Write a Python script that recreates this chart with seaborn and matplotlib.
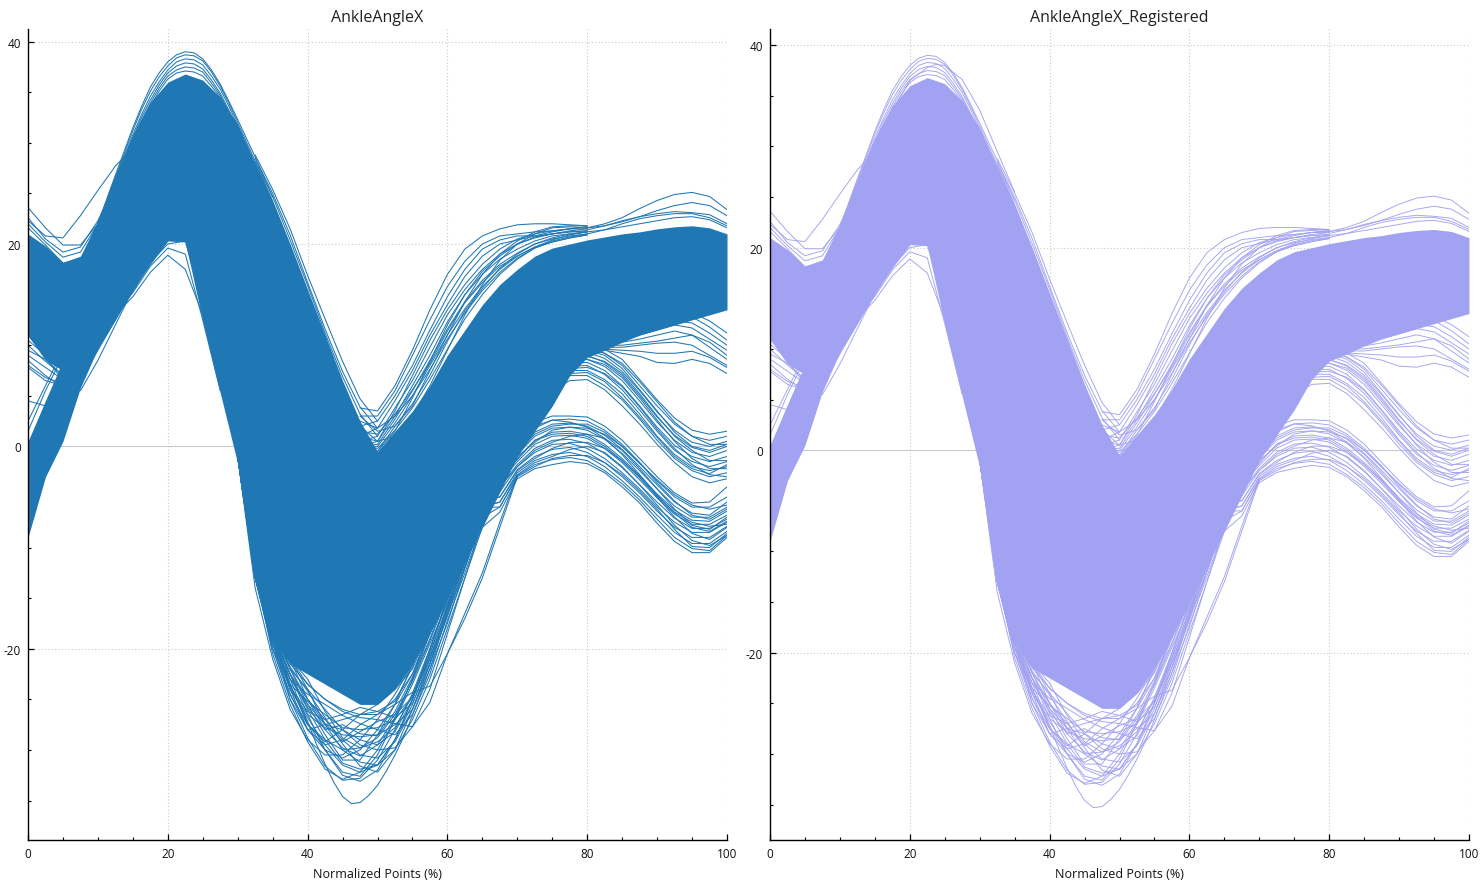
import matplotlib
matplotlib.use("Agg")
import matplotlib.pyplot as plt
import pandas as pd
import seaborn as sns
from matplotlib.ticker import MultipleLocator

# ------------------------------------------------------------------
# values
# ------------------------------------------------------------------
titles = ["AnkleAngleX", "AnkleAngleX_Registered"]
x_label = "Normalized Points (%)"

# saturated mass of curves: outer edges of the solid band
band_x = [0, 2.5, 5, 7.5, 10, 12.5, 15, 17.5, 20, 22.5, 25, 27.5, 30, 32.5, 35, 37.5, 40, 42.5, 45, 47.5,
          50, 52.5, 55, 57.5, 60, 62.5, 65, 67.5, 70, 72.5, 75, 77.5, 80, 82.5, 85, 87.5, 90, 92.5, 95, 97.5, 100]
band_upper = [21, 19.8, 18.2, 18.8, 22.3, 26.8, 30.8, 34, 36, 36.8, 36.2, 34.5, 31.8, 28, 24.3, 20, 15.5, 11, 6.5, 2.5,
              -0.5, 1.5, 3.5, 6, 9, 11.5, 14, 16, 17.5, 18.8, 19.6, 20, 20.4, 20.7, 21, 21.2, 21.5, 21.7, 21.8, 21.6, 21]
band_lower = [11, 8.5, 7.5, 6.5, 9.7, 12.5, 15.5, 18, 20.3, 20.2, 12.4, 5.3, -1.7, -13, -19, -21.5, -22.5, -23.5, -24.5, -25.5,
              -25.5, -24, -21.5, -18.5, -15, -11.5, -8, -4.5, -1, 1.5, 4, 7, 8.8, 9.5, 10.3, 11, 11.5, 12, 12.5, 13, 13.5]

# second group at the start of the cycle
branch_x = [0, 2.5, 5, 7.5, 10]
branch_upper = [0.5, 4.5, 8.5, 12, 14]
branch_lower = [-9, -3, 0.5, 5.8, 9.7]

start_x = [0, 2.5, 5, 7.5, 10, 12.5, 15]
start_curves = [
    [23.6, 21.6, 19.9, 19.9, 22, 26, 30],
    [22.3, 20.8, 20.6, 22.8, 25.3, 27.7, 29.5],
    [22.6, 20.5, 19.2, 19.7, 22.3, 26, 30],
    [22, 20.2, 18.7, 19.2, 22, 26, 30],
    [21.6, 19.9, 18.1, 18.5, 21.5, 25.5, 29.5],
    [11, 8.8, 6.5, 5.5, 8.5, 12, 15.5],
    [11.2, 9.5, 8, 8.3, 10.5, 13, 16],
    [10.5, 9, 7.5, 8, 10.5, 13, 16],
    [10, 8.4, 7, 7.8, 10.3, 13, 16],
    [9.5, 8.6, 7, 8.5, 11, 13.5, 16.5],
    [9, 7.8, 6.6, 7.5, 10, 13, 16],
    [8.5, 7, 5.8, 6.5, 9.5, 12.5, 15.5],
    [8, 6.8, 6.2, 7.2, 10, 13, 16],
    [7.8, 6.5, 6, 7, 10, 13, 16],
    [4.5, 4, 5, 7, 10, 13, 16],
    [2.5, 6, 9.5, 12, 14, 16, 18],
    [1.5, 5.5, 9, 11.5, 13.5, 16, 18],
    [0, 4.2, 8, 11, 13.5, 16, 18],
]

peak_x = [10, 12.5, 15, 16.25, 17.5, 18.75, 20, 21.25, 22.5, 23.75, 25, 26.25, 27.5, 28.75, 30, 32.5, 35]
peak_curves = [
    [22, 26.8, 31.5, 33.6, 35.5, 36.9, 38, 38.7, 39, 38.9, 38.3, 37.2, 35.8, 34.1, 32.3, 28.6, 24.6],
    [22, 26.6, 31.2, 33.3, 35.1, 36.5, 37.6, 38.4, 38.7, 38.6, 38.1, 37, 35.6, 33.9, 32, 28.2, 24.2],
    [22, 26.4, 30.8, 32.8, 34.6, 36, 37.2, 38, 38.3, 38.2, 37.7, 36.6, 35.3, 33.6, 31.7, 27.8, 23.8],
    [22, 26.3, 30.5, 32.5, 34.2, 35.7, 36.9, 37.6, 37.9, 37.8, 37.3, 36.2, 34.9, 33.2, 31.4, 27.5, 23.5],
    [22, 26.2, 30.3, 32.2, 33.9, 35.4, 36.6, 37.2, 37.5, 37.4, 37, 35.9, 34.7, 33, 31.2, 27.3, 23.3],
    [22, 26.1, 30.1, 31.9, 33.6, 35.1, 36.3, 36.9, 37.1, 37, 36.6, 35.6, 34.5, 32.8, 31, 27.1, 23.1],
]

# outlier only seen in the registered panel
registered_x = [15, 17.5, 20, 22.5, 23.75, 25, 27.5, 30, 32.5, 35]
registered_peak = [30, 33.5, 36.5, 37.8, 38.1, 38, 36.6, 33.6, 29.5, 25.5]

under_x = [10, 12.5, 15, 17.5, 20, 22.5, 25, 27.5]
under_curves = [
    [10.5, 13, 14.8, 17.2, 18.9, 17.5, 13, 6.5],
    [10.5, 13, 15.2, 17.8, 19.6, 19, 12.5, 5.5],
    [10.5, 13, 15.3, 18.2, 20, 20.3, 14, 6],
]

fall_x = [32.5, 35, 37.5, 40, 42.5, 45, 47.5, 50]
fall_curves = [
    [28.8, 25.4, 21.5, 16.9, 12.6, 8.4, 4.7, 2.5],
    [28.5, 25, 20.9, 16.2, 11.6, 7.4, 3.9, 1.8],
    [28.2, 24.7, 20.4, 15.9, 11.2, 6.9, 3.2, 1],
]

# loops under the main mass
trough_x = [30, 32.5, 35, 37.5, 40, 42.5, 45, 47.5, 50, 52.5, 55, 57.5, 60, 62.5, 65, 67.5, 70]
trough_curves = [
    [-1, -13, -20, -25, -28.8, -31.6, -33, -32.8, -31, -28, -24.4, -20, -15, -10, -5, -2, 0],
    [-1, -12.5, -20.5, -25.5, -29.2, -31.9, -32.9, -32.2, -30, -27, -23.5, -19.5, -15.5, -10.5, -5.5, -2, 0],
    [-1, -13, -19, -24, -26.8, -29.5, -31.5, -32.2, -31.5, -29, -25, -20, -15, -10, -5, -2, 0],
    [-1, -12, -18.5, -22.5, -26.5, -30, -32.2, -32.6, -30.5, -27, -23, -18.5, -13.5, -9, -5, -2, 0],
    [-1, -11, -17, -21, -24, -27.5, -30, -31.2, -31.5, -30, -27, -23, -18, -13, -7.5, -4, -1],
    [-1, -13, -19, -22.5, -25, -27, -29, -30.5, -30.8, -29.2, -26, -21.5, -16, -11, -6.5, -3, 0],
    [-1, -12, -18, -22, -24, -26, -28, -29.5, -30, -29.8, -27.7, -24, -18.5, -13, -8, -4, 0],
    [-1, -12.5, -19.5, -24, -26.5, -27.8, -28.5, -28.7, -28.5, -27.5, -26, -22, -17.5, -12, -7, -3, 0],
    [-1, -11, -17, -21.5, -23.5, -25, -26, -26.5, -26.5, -25.5, -24.3, -23.7, -20.5, -17, -13, -8, -3],
    [-1, -11.5, -17.5, -21, -23.5, -25, -26.2, -26.8, -27, -27.4, -27.7, -25.3, -20.5, -16.5, -12.5, -7.5, -2.8],
    [-1, -12, -18, -24, -28, -30, -30.8, -30, -28, -25.5, -22.5, -18, -14, -10, -6, -3, 0],
    [-1, -12, -17, -21, -25, -28, -29.8, -30.6, -29.5, -26.8, -23, -19, -14.5, -10, -5, -2, 0],
    [-1, -14, -21, -26, -29, -30.5, -30.5, -29, -27, -24.5, -21.5, -17.5, -13, -9, -4.5, -2, 0],
    [-1, -13, -20, -24.5, -28, -29.5, -29, -27.5, -26.5, -25, -22.5, -18.5, -14, -9.5, -5, -2, 0],
    [-1, -12, -18.5, -23.5, -27.5, -29.2, -28, -26.5, -25.5, -24, -22, -18, -13.5, -9, -5, -2, 0],
    [-1, -13, -19, -25, -28, -27.5, -27, -26.5, -26.2, -25.2, -21.8, -17, -13, -9, -4.5, -2, 0],
    [-1, -13, -18, -22, -25.5, -28.5, -31, -31, -28.5, -25.5, -21.5, -17, -12.5, -8, -4, -2, 0],
    [-1, -12, -18, -22.5, -26, -29, -31.3, -31.9, -31.5, -29, -25.5, -21, -16, -11.5, -7, -3, 0],
    [-1, -13, -19, -23.5, -27.3, -30, -32.5, -33.1, -32, -29, -25, -20.5, -15.7, -10.5, -5.8, -2.5, 0],
    [-1, -12, -19, -23, -25.5, -27.5, -28, -29, -29.5, -28.2, -25, -20.8, -16.5, -12, -7, -3.5, 0],
    [-1, -13, -20, -23.5, -25.2, -26.5, -27.8, -28, -27.8, -27, -24.8, -20.2, -15.2, -10.8, -6.2, -3, 0],
    [-1, -12, -18, -21, -23, -26.2, -28.8, -29.8, -28.8, -26.5, -23.2, -19.2, -14.8, -10.2, -5.6, -2.5, 0],
    [-1, -13, -19.5, -23, -24.5, -25.5, -26.6, -27.4, -28, -28.5, -26.5, -22.5, -17.2, -12.5, -7.6, -3.5, 0],
    [-1, -12.5, -18.5, -22.5, -25.8, -28, -27.5, -28.4, -28.6, -26.2, -22.8, -18.2, -13.8, -9.5, -5.2, -2, 0],
    [-1, -12, -18, -21.8, -24.2, -26.8, -29.4, -31.6, -32.2, -30, -26, -21.5, -16.8, -12, -7.2, -3.2, 0],
    [-1, -13, -19.5, -24.5, -27.5, -29, -30, -29.8, -29.2, -27.8, -24.6, -20.5, -15.8, -11.2, -6.5, -3, 0],
    [-1, -11.5, -17.5, -22, -25, -27.4, -29.2, -28.2, -27.2, -26.5, -24.8, -21, -16.2, -11.5, -6.8, -3, 0],
    [-1, -12.5, -19, -23.8, -26.2, -27, -26.5, -25.8, -26.2, -26.8, -25.4, -21.4, -16.6, -11.8, -7, -3, 0],
]

# the lowest curve, read more closely around its minimum
lowest_x = [30, 32.5, 35, 37.5, 40, 41.25, 42.5, 43.75, 45, 46.25, 47.5, 48.75, 50, 51.25, 52.5, 53.75, 55, 57.5, 60, 62.5, 65]
lowest_y = [-1, -11, -18, -23, -27.2, -29.4, -31.4, -33.2, -34.6, -35.3, -35.2, -34.5, -33.5, -32.1, -30.5, -28.7, -26.6, -22, -16.5, -11, -6]

# loose curves above the rising part
rise_x = [47.5, 50, 52.5, 55, 57.5, 60, 62.5, 65, 67.5, 70, 72.5, 75, 77.5, 80]
rise_curves = [
    [3.8, 3.5, 6, 9.5, 13.5, 17, 19.5, 20.8, 21.5, 21.9, 22, 22, 21.9, 21.8],
    [3, 3, 5.5, 9, 12.5, 15.8, 18.3, 20, 20.8, 21, 21.2, 21.3, 21.5, 21.7],
    [2, 2.5, 5, 8, 11.5, 14.8, 17.5, 19.5, 20.4, 20.8, 20.8, 21, 21.3, 21.5],
    [1, 1.8, 4.5, 7.5, 11, 14, 16.8, 18.8, 20, 20.4, 20.8, 21.2, 21.5, 21.7],
    [1, 0.5, 3.5, 7, 10.5, 13.5, 16, 18, 19.5, 20.5, 21, 21.3, 21.5, 21.5],
    [0.5, 1, 3.8, 6.5, 9.8, 13, 15.5, 17.5, 19, 20, 20.7, 21, 21.2, 21.3],
    [0, 0.5, 3, 6, 9, 12.3, 15, 17, 18.5, 19.5, 20.3, 20.8, 21, 21.2],
    [0, 0.2, 2.7, 5.5, 8.5, 11.6, 14.3, 16.4, 18, 19.1, 20, 20.5, 20.8, 21],
    [-0.3, 0, 2.3, 5, 8, 11, 13.6, 15.8, 17.5, 18.8, 19.7, 20.2, 20.6, 20.9],
    [0, -0.5, 1.5, 4.8, 8.4, 12, 15, 17.3, 18.8, 20, 20.6, 21, 21.2, 21.3],
    [2, 0.5, 1, 3, 6, 9.5, 13, 16, 18.4, 20, 21, 21.6, 21.7, 21.6],
    [3, 1.5, 2, 4, 7.5, 11, 14.3, 17, 19, 20.3, 21.2, 21.7, 21.8, 21.8],
    [-0.5, -0.5, 2, 4.2, 7, 10.4, 13.4, 15.6, 17.6, 19, 20, 20.6, 21, 21.2],
    [0, -0.2, 1.6, 3.8, 6.6, 9.6, 12.6, 15, 17, 18.5, 19.6, 20.3, 20.7, 21],
    [1.5, 1.2, 3.2, 5.6, 8.2, 11.4, 14.2, 16.2, 17.8, 18.8, 19.7, 20.4, 20.9, 21.2],
    [2.5, 1.8, 3, 5, 7.6, 10.6, 13.2, 15.4, 17.2, 18.6, 19.6, 20.2, 20.6, 20.9],
]

# two groups that split away late in the cycle
low_x = [65, 67.5, 70, 72.5, 75, 77.5, 80, 82.5, 85, 87.5, 90, 92.5, 95, 97.5, 100]
low_curves = [
    [-5, -1, 0.2, 2.4, 3, 3, 2.9, 2, 0.6, -1.2, -3, -4.6, -5.6, -5.5, -4],
    [-5, -1.5, -0.3, 1.8, 2.6, 2.7, 2.5, 1.6, 0.2, -1.6, -3.4, -5, -6, -6, -5],
    [-5, -2, -0.5, 1.4, 2.2, 2.3, 2, 1.1, -0.3, -2, -3.8, -5.5, -6.6, -6.8, -5.5],
    [-5, -2.5, -0.8, 1, 1.8, 1.9, 1.6, 0.7, -0.7, -2.4, -4.2, -5.9, -7, -7, -6],
    [-5, -3, -1.2, 0.6, 1.4, 1.5, 1.2, 0.2, -1.2, -2.9, -4.7, -6.3, -7.3, -7.4, -6.4],
    [-5, -3.5, -1.5, 0.2, 1, 1.1, 0.8, -0.2, -1.6, -3.3, -5.1, -6.7, -7.7, -7.7, -6.8],
    [-5, -4, -1.8, -0.2, 0.6, 0.7, 0.3, -0.7, -2.1, -3.8, -5.5, -7.1, -8.1, -8.1, -7.2],
    [-5, -4.5, -2, -0.6, 0.2, 0.3, -0.2, -1.2, -2.6, -4.2, -6, -7.5, -8.5, -8.5, -7.5],
    [-5.5, -5, -2.3, -1, -0.3, -0.1, -0.6, -1.6, -3, -4.6, -6.4, -8, -9, -9, -7.9],
    [-6, -5.5, -2.6, -1.4, -0.8, -0.6, -1, -2, -3.4, -5, -6.8, -8.5, -9.6, -9.6, -8.4],
    [-7, -6, -2.9, -1.8, -1.3, -1.1, -1.4, -2.4, -3.7, -5.3, -7.2, -9, -10.1, -10.3, -8.8],
    [-8, -6.5, -3.2, -2.2, -1.8, -1.5, -1.7, -2.6, -4, -5.6, -7.6, -9.4, -10.5, -10.5, -9],
    [-5, -2, 0, 2, 2.6, 2.4, 1.9, 0.8, -0.8, -2.8, -4.8, -6.6, -8, -8.4, -7.4],
    [-5, -3, -1, 0.4, 1.6, 1.9, 1.8, 1.2, 0, -1.6, -3.6, -5.4, -6.8, -7.2, -6.2],
    [-5, -4, -2, -0.4, 0.4, 1, 1.2, 0.8, -0.4, -2.2, -4.2, -6.2, -7.8, -8.2, -7],
    [-5, -5, -2.4, -1.2, -0.2, 0.4, 0.4, -0.2, -1.4, -3, -5, -7, -8.6, -9.2, -8],
    [-6, -5.5, -2.8, -1.6, -1, -0.3, 0, -0.6, -2, -3.8, -5.8, -7.8, -9.3, -9.8, -8.8],
    [-6, -6, -3, -2, -1.2, -0.9, -0.9, -1.6, -2.8, -4.4, -6.2, -8.2, -9.9, -10, -8.6],
    [-5, -2.5, -0.6, 1.2, 2, 2.2, 2.2, 1.4, 0, -1.7, -3.3, -4.8, -5.8, -6.2, -5.8],
    [-5, -3.2, -1.3, 0.6, 1.2, 1.3, 1, 0, -1.4, -3.1, -4.9, -6.5, -7.5, -7.9, -7.7],
]

mid_x = [75, 77.5, 80, 82.5, 85, 87.5, 90, 92.5, 95, 97.5, 100]
mid_curves = [
    [9, 10, 10, 9.6, 8.6, 6.6, 4.6, 2.8, 1.6, 1.2, 1.5],
    [8.5, 9.6, 9.7, 9.2, 8, 6, 4, 2.2, 1, 0.6, 1],
    [8, 9.2, 9.3, 8.7, 7.4, 5.5, 3.4, 1.6, 0.4, 0, 0.5],
    [7.8, 8.9, 9, 8.3, 7, 5, 2.9, 1.1, -0.1, -0.6, 0],
    [7.5, 8.5, 8.6, 7.9, 6.5, 4.5, 2.4, 0.6, -0.6, -1, -0.4],
    [7.2, 8.2, 8.3, 7.5, 6, 4, 1.9, 0.1, -1, -1.5, -1],
    [7, 7.9, 8, 7.1, 5.6, 3.6, 1.5, -0.4, -1.5, -2, -1.5],
    [6.5, 7.5, 7.5, 6.6, 5.2, 3.2, 1, -0.8, -2, -2.4, -2],
    [6, 7, 7, 6, 4.6, 2.7, 0.6, -1.2, -2.4, -3, -2.6],
    [5.5, 6.5, 6.6, 5.6, 4, 2.2, 0.2, -1.6, -3, -3.6, -3.2],
    [8.8, 9.8, 9.8, 9.2, 8.2, 6.4, 4.4, 2.4, 1, 0.2, 0.2],
    [8.2, 9.3, 9.5, 9, 7.7, 5.6, 3.5, 1.4, 0, -0.4, 0.2],
    [7.6, 8.7, 8.9, 8.4, 7.2, 5.2, 3, 1, -0.4, -1.4, -1.4],
    [7.3, 8.3, 8.6, 8.1, 6.8, 4.8, 2.6, 0.5, -1.2, -2.2, -2.2],
    [6.8, 7.7, 7.8, 7.2, 5.9, 3.9, 1.7, -0.2, -1.8, -2.8, -3],
    [6.2, 7.2, 7.3, 6.4, 4.8, 2.9, 0.9, -1, -2.2, -2.7, -1.8],
]

flat_x = [82.5, 85, 87.5, 90, 92.5, 95, 97.5, 100]
flat_curves = [
    [9.5, 9.2, 8.9, 8.3, 8.2, 8.6, 8.2, 7.2],
    [9.6, 9.5, 9.4, 9.2, 9.2, 9.4, 8.8, 7.8],
    [9.8, 9.8, 10, 10.2, 10.3, 10, 9, 8],
    [10, 10.3, 10.6, 11, 11.4, 11, 9.8, 8.6],
    [10, 10, 10.2, 10.4, 10.7, 11, 10.3, 9],
    [10.2, 10.6, 11, 11.5, 12, 11.7, 10.6, 9.5],
    [10.5, 10.9, 11.5, 12, 12.4, 12.2, 11.2, 10],
    [11, 11.2, 11.8, 12.4, 12.6, 12.8, 11.8, 10.5],
    [11.3, 11.8, 12.4, 12.6, 13, 13.2, 12.4, 11.2],
]

top_x = [80, 82.5, 85, 87.5, 90, 92.5, 95, 97.5, 100]
top_curves = [
    [21.6, 22, 22.6, 23.5, 24.3, 24.9, 25.1, 24.7, 23.4],
    [21.6, 21.8, 22.2, 22.7, 23.3, 23.8, 24.1, 23.8, 22.8],
    [21.4, 21.8, 22.3, 22.7, 23, 23.2, 23.1, 22.9, 22],
    [21, 21.4, 22, 22.5, 22.8, 23, 23, 22.6, 21.8],
    [21.2, 21.4, 21.7, 22, 22.3, 22.6, 22.7, 22.4, 21.6],
]

families = [
    (start_x, start_curves), (peak_x, peak_curves), (under_x, under_curves), (fall_x, fall_curves),
    (trough_x, trough_curves), (lowest_x, [lowest_y]), (rise_x, rise_curves), (low_x, low_curves),
    (mid_x, mid_curves), (flat_x, flat_curves), (top_x, top_curves),
]


def to_long(x_values, curves):
    # one row per point, so seaborn can draw each curve through units=
    rows = []
    for n, curve in enumerate(curves):
        rows.append(pd.DataFrame({"x": x_values, "y": curve, "curve": n}))
    return pd.concat(rows, ignore_index=True)


def draw_panel(ax, title, color, line_width, y_limits, extra=None):
    ax.fill_between(band_x, band_lower, band_upper, color=color, linewidth=0)
    ax.fill_between(branch_x, branch_lower, branch_upper, color=color, linewidth=0)

    to_draw = list(families)
    if extra is not None:
        to_draw.append(extra)
    for x_values, curves in to_draw:
        sns.lineplot(data=to_long(x_values, curves), x="x", y="y", units="curve", estimator=None,
                     color=color, linewidth=line_width, legend=False, ax=ax)

    ax.set_xlim(0, 100)
    ax.set_ylim(*y_limits)
    ax.xaxis.set_major_locator(MultipleLocator(20))
    ax.xaxis.set_minor_locator(MultipleLocator(5))
    ax.yaxis.set_major_locator(MultipleLocator(20))
    ax.yaxis.set_minor_locator(MultipleLocator(5))

    ax.grid(True, which="major", color="#c9c9c9", linestyle=(0, (1, 2)), linewidth=0.8)
    ax.set_axisbelow(True)
    for tick_value, line in zip(ax.get_yticks(), ax.get_ygridlines()):
        if tick_value == 0:
            line.set_linestyle("-")

    ax.tick_params(axis="both", which="major", direction="in", length=4, width=0.9, color="black",
                   labelsize=8.5, labelcolor="#111111", pad=5, bottom=True, left=True)
    ax.tick_params(axis="both", which="minor", direction="in", length=2, width=0.8, color="black",
                   bottom=True, left=True)

    sns.despine(ax=ax)
    ax.spines["left"].set_color("black")
    ax.spines["bottom"].set_color("black")
    ax.spines["left"].set_linewidth(1.0)
    ax.spines["bottom"].set_linewidth(1.0)

    ax.set_title(title, fontsize=11.5, color="#222222", pad=5.5)
    ax.set_xlabel(x_label, fontsize=9, color="#111111", labelpad=5)
    ax.set_ylabel("")


sns.set_theme(style="white")
plt.rcParams["font.family"] = ["Open Sans", "DejaVu Sans"]
plt.rcParams["axes.unicode_minus"] = False

fig = plt.figure(figsize=(14.84, 8.87), dpi=100)
ax_left = fig.add_axes([28 / 1484, 46 / 887, 699 / 1484, 811 / 887])
ax_right = fig.add_axes([770 / 1484, 46 / 887, 699 / 1484, 811 / 887])

draw_panel(ax_left, titles[0], "#1f77b4", 0.75, (-38.9, 41.25))
draw_panel(ax_right, titles[1], "#a2a2f2", 0.65, (-38.5, 41.6), extra=(registered_x, [registered_peak]))

fig.savefig("out.png", dpi=100)
